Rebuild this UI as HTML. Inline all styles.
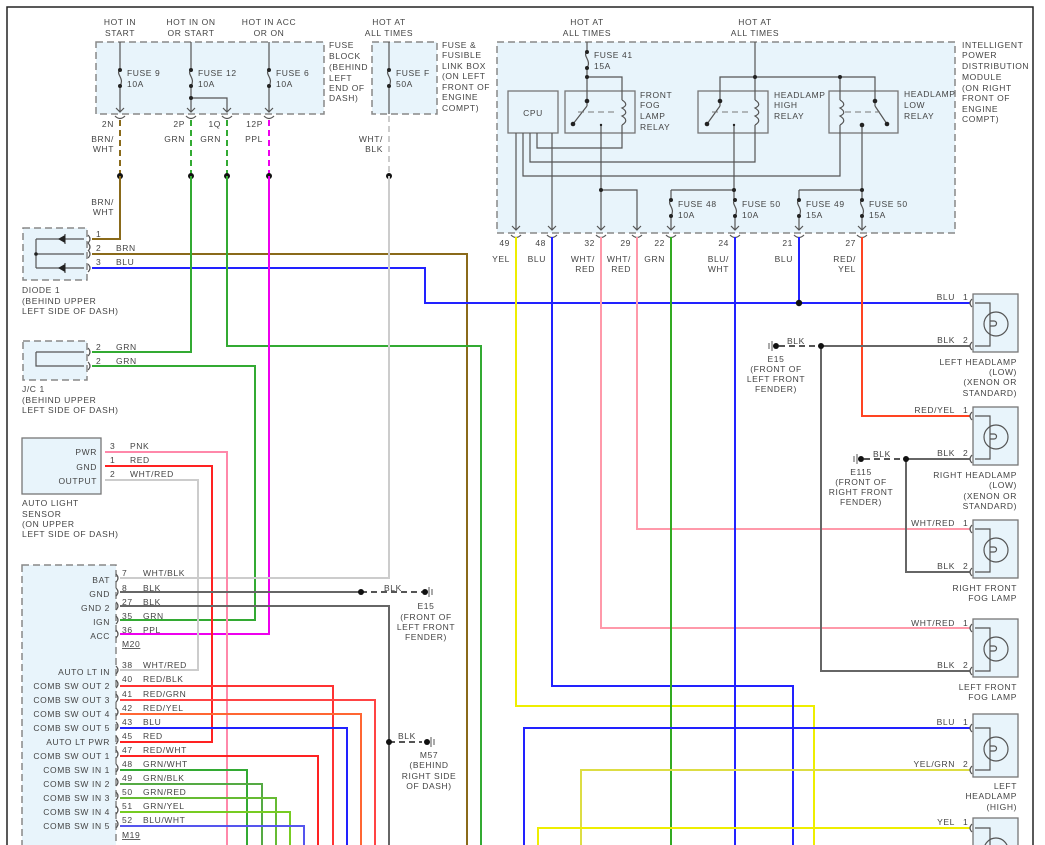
<!DOCTYPE html>
<html><head><meta charset="utf-8"><style>
body{margin:0;background:#fff}
svg{display:block}
text{font-family:"Liberation Sans",sans-serif;font-size:8.5px;fill:#444;letter-spacing:0.6px}
.r{text-anchor:end}.m{text-anchor:middle}
.box{fill:#e8f4fb;stroke:#777;stroke-width:1.3}
.dash{fill:#e8f4fb;stroke:#888;stroke-width:1.5;stroke-dasharray:7,4}
.in{fill:none;stroke:#555;stroke-width:1.2}
.w{fill:none;stroke-width:2}
</style></head><body>
<svg width="1045" height="845" viewBox="0 0 1045 845">
<rect x="7" y="7" width="1026" height="850" fill="none" stroke="#222" stroke-width="1.5"/>

<!-- Fuse block -->
<rect class="dash" x="96" y="42" width="228" height="72"/>
<rect class="dash" x="372" y="42" width="65" height="72"/>
<rect class="dash" x="497" y="42" width="458" height="191"/>
<text class="m" x="120" y="25">HOT IN</text><text class="m" x="120" y="36">START</text>
<text class="m" x="191" y="25">HOT IN ON</text><text class="m" x="191" y="36">OR START</text>
<text class="m" x="269" y="25">HOT IN ACC</text><text class="m" x="269" y="36">OR ON</text>
<text class="m" x="389" y="25">HOT AT</text><text class="m" x="389" y="36">ALL TIMES</text>
<text x="329" y="48">FUSE</text><text x="329" y="59">BLOCK</text><text x="329" y="70">(BEHIND</text><text x="329" y="81">LEFT</text><text x="329" y="91">END OF</text><text x="329" y="101">DASH)</text>
<text x="442" y="48">FUSE &amp;</text><text x="442" y="58">FUSIBLE</text><text x="442" y="69">LINK BOX</text><text x="442" y="79">(ON LEFT</text><text x="442" y="90">FRONT OF</text><text x="442" y="100">ENGINE</text><text x="442" y="111">COMPT)</text>
<g class="in">
<path d="M120 42V70M120 86V112M191 42V70M191 86V112M191 98H227V112M269 42V70M269 86V112M389 42V70M389 86V114"/>
<path d="M120 70c-5 4 5 8 0 16M191 70c-5 4 5 8 0 16M269 70c-5 4 5 8 0 16M389 70c-5 4 5 8 0 16"/>
<path d="M116 108l4 4 4-4M187 108l4 4 4-4M223 108l4 4 4-4M265 108l4 4 4-4"/>
<path d="M115 116q5 5 10 0M186 116q5 5 10 0M222 116q5 5 10 0M264 116q5 5 10 0"/>
</g>
<g fill="#222"><circle cx="120" cy="70" r="2"/><circle cx="120" cy="86" r="2"/><circle cx="191" cy="70" r="2"/><circle cx="191" cy="86" r="2"/><circle cx="191" cy="98" r="2"/><circle cx="269" cy="70" r="2"/><circle cx="269" cy="86" r="2"/><circle cx="389" cy="70" r="2"/><circle cx="389" cy="86" r="2"/></g>
<text x="127" y="76">FUSE 9</text><text x="127" y="87">10A</text>
<text x="198" y="76">FUSE 12</text><text x="198" y="87">10A</text>
<text x="276" y="76">FUSE 6</text><text x="276" y="87">10A</text>
<text x="396" y="76">FUSE F</text><text x="396" y="87">50A</text>
<text class="r" x="114" y="127">2N</text><text class="r" x="185" y="127">2P</text><text class="r" x="221" y="127">1Q</text><text class="r" x="263" y="127">12P</text>
<text class="r" x="114" y="142">BRN/</text><text class="r" x="114" y="152">WHT</text>
<text class="r" x="185" y="142">GRN</text><text class="r" x="221" y="142">GRN</text><text class="r" x="263" y="142">PPL</text>
<text class="r" x="383" y="142">WHT/</text><text class="r" x="383" y="152">BLK</text>
<g class="w" stroke-dasharray="6,4">
<path stroke="#8a6a1a" d="M120 120V176"/><path stroke="#3a3" d="M191 120V176M227 120V176"/><path stroke="#e0e" d="M269 120V176"/><path stroke="#ccc" d="M389 116V176"/>
</g>
<g fill="#111"><circle cx="120" cy="176" r="3"/><circle cx="191" cy="176" r="3"/><circle cx="227" cy="176" r="3"/><circle cx="269" cy="176" r="3"/><circle cx="389" cy="176" r="3"/></g>
<text class="r" x="114" y="205">BRN/</text><text class="r" x="114" y="215">WHT</text>

<!-- IPDM -->
<text class="m" x="587" y="25">HOT AT</text><text class="m" x="587" y="36">ALL TIMES</text>
<text class="m" x="755" y="25">HOT AT</text><text class="m" x="755" y="36">ALL TIMES</text>
<text x="962" y="48">INTELLIGENT</text><text x="962" y="58">POWER</text><text x="962" y="69">DISTRIBUTION</text><text x="962" y="80">MODULE</text><text x="962" y="91">(ON RIGHT</text><text x="962" y="101">FRONT OF</text><text x="962" y="112">ENGINE</text><text x="962" y="122">COMPT)</text>
<rect class="box" x="508" y="91" width="50" height="42"/>
<rect class="box" x="565" y="91" width="70" height="42"/>
<rect class="box" x="698" y="91" width="70" height="42"/>
<rect class="box" x="829" y="91" width="69" height="42"/>
<text class="m" x="533" y="116">CPU</text>
<text x="640" y="98">FRONT</text><text x="640" y="108">FOG</text><text x="640" y="119">LAMP</text><text x="640" y="130">RELAY</text>
<text x="774" y="98">HEADLAMP</text><text x="774" y="108">HIGH</text><text x="774" y="119">RELAY</text>
<text x="904" y="97">HEADLAMP</text><text x="904" y="108">LOW</text><text x="904" y="119">RELAY</text>
<g class="in">
<path d="M587 42V52M587 68V106M587 77H622V100M587 106L573 124M622 125V148H537V133"/>
<path d="M622 100c5 3 5 6 0 8c5 3 5 6 0 8c5 3 5 6 0 9"/>
<path d="M587 52c-5 4 5 8 0 16"/>
<path d="M755 42V100M720 106V77H875V106M720 106L707 124M755 125V162H530V133M840 77V100M840 125V176H523V133M875 106L887 124"/>
<path d="M755 100c5 3 5 6 0 8c5 3 5 6 0 8c5 3 5 6 0 9M840 100c5 3 5 6 0 8c5 3 5 6 0 8c5 3 5 6 0 9"/>
<path d="M601 125V230M601 190H637V230M734 125V200M671 190H734M671 190V200M862 125V200M799 190H862M799 190V200M671 216V230M735 216V230M799 216V230M862 216V230M516 133V230M552 133V230"/>
<path d="M671 200c-5 4 5 8 0 16M735 200c-5 4 5 8 0 16M799 200c-5 4 5 8 0 16M862 200c-5 4 5 8 0 16"/>
<path d="M512 226l4 4 4-4M548 226l4 4 4-4M597 226l4 4 4-4M633 226l4 4 4-4M667 226l4 4 4-4M731 226l4 4 4-4M795 226l4 4 4-4M858 226l4 4 4-4"/>
<path d="M511 235q5 5 10 0M547 235q5 5 10 0M596 235q5 5 10 0M632 235q5 5 10 0M666 235q5 5 10 0M730 235q5 5 10 0M794 235q5 5 10 0M857 235q5 5 10 0"/>
</g>
<path d="M578 112h40M712 112h40M845 112h35" stroke="#777" stroke-dasharray="6,4"/>
<g fill="#222"><circle cx="587" cy="52" r="2"/><circle cx="587" cy="68" r="2"/><circle cx="587" cy="77" r="2"/><circle cx="587" cy="101" r="2.3"/><circle cx="573" cy="124" r="2.3"/><circle cx="601" cy="125" r="1.2"/><circle cx="601" cy="190" r="2"/>
<circle cx="755" cy="77" r="2"/><circle cx="840" cy="77" r="2"/><circle cx="720" cy="101" r="2.3"/><circle cx="707" cy="124" r="2.3"/><circle cx="734" cy="125" r="1.2"/><circle cx="875" cy="101" r="2.3"/><circle cx="887" cy="124" r="2.3"/><circle cx="862" cy="125" r="2.3"/>
<circle cx="734" cy="190" r="2"/><circle cx="862" cy="190" r="2"/>
<circle cx="671" cy="200" r="2"/><circle cx="671" cy="216" r="2"/><circle cx="735" cy="200" r="2"/><circle cx="735" cy="216" r="2"/><circle cx="799" cy="200" r="2"/><circle cx="799" cy="216" r="2"/><circle cx="862" cy="200" r="2"/><circle cx="862" cy="216" r="2"/></g>
<text x="594" y="58">FUSE 41</text><text x="594" y="69">15A</text>
<text x="678" y="207">FUSE 48</text><text x="678" y="218">10A</text>
<text x="742" y="207">FUSE 50</text><text x="742" y="218">10A</text>
<text x="806" y="207">FUSE 49</text><text x="806" y="218">15A</text>
<text x="869" y="207">FUSE 50</text><text x="869" y="218">15A</text>
<text class="r" x="510" y="246">49</text><text class="r" x="546" y="246">48</text><text class="r" x="595" y="246">32</text><text class="r" x="631" y="246">29</text><text class="r" x="665" y="246">22</text><text class="r" x="729" y="246">24</text><text class="r" x="793" y="246">21</text><text class="r" x="856" y="246">27</text>
<text class="r" x="510" y="262">YEL</text><text class="r" x="546" y="262">BLU</text><text class="r" x="595" y="262">WHT/</text><text class="r" x="595" y="272">RED</text><text class="r" x="631" y="262">WHT/</text><text class="r" x="631" y="272">RED</text><text class="r" x="665" y="262">GRN</text><text class="r" x="729" y="262">BLU/</text><text class="r" x="729" y="272">WHT</text><text class="r" x="793" y="262">BLU</text><text class="r" x="856" y="262">RED/</text><text class="r" x="856" y="272">YEL</text>

<!-- Diode / JC -->
<rect class="dash" x="23" y="228" width="64" height="52"/>
<rect class="dash" x="23" y="341" width="64" height="39"/>
<g class="in"><path d="M36 239H84M36 254H84M36 268H84M36 239V268M36 352H84M36 352V366H84"/>
<path d="M88 235q4 4 0 8q4 4 0 8M88 250q4 4 0 8M88 264q4 4 0 8M88 348q4 4 0 8M88 362q4 4 0 8"/></g>
<path d="M58 239l7-4v8zM58 268l7-4v8z" fill="#222"/><path d="M65 234v10M65 263v10" stroke="#222"/>
<circle cx="36" cy="254" r="1.8" fill="#222"/>
<text x="96" y="237">1</text><text x="96" y="251">2</text><text x="116" y="251">BRN</text><text x="96" y="265">3</text><text x="116" y="265">BLU</text>
<text x="96" y="350">2</text><text x="116" y="350">GRN</text><text x="96" y="364">2</text><text x="116" y="364">GRN</text>
<text x="22" y="293">DIODE 1</text><text x="22" y="304">(BEHIND UPPER</text><text x="22" y="314">LEFT SIDE OF DASH)</text>
<text x="22" y="392">J/C 1</text><text x="22" y="403">(BEHIND UPPER</text><text x="22" y="413">LEFT SIDE OF DASH)</text>

<!-- Auto light sensor -->
<rect class="box" x="22" y="438" width="79" height="56"/>
<text class="r" x="97" y="455">PWR</text><text class="r" x="97" y="470">GND</text><text class="r" x="97" y="484">OUTPUT</text>
<text x="110" y="449">3</text><text x="130" y="449">PNK</text><text x="110" y="463">1</text><text x="130" y="463">RED</text><text x="110" y="477">2</text><text x="130" y="477">WHT/RED</text>
<text x="22" y="506">AUTO LIGHT</text><text x="22" y="517">SENSOR</text><text x="22" y="527">(ON UPPER</text><text x="22" y="537">LEFT SIDE OF DASH)</text>

<!-- BCM -->
<rect class="dash" x="22" y="565" width="94" height="300"/>
<g font-size="8.5">
<text class="r" x="110" y="583">BAT</text><text class="r" x="110" y="597">GND</text><text class="r" x="110" y="611">GND 2</text><text class="r" x="110" y="625">IGN</text><text class="r" x="110" y="639">ACC</text>
<text class="r" x="110" y="675">AUTO LT IN</text><text class="r" x="110" y="689">COMB SW OUT 2</text><text class="r" x="110" y="703">COMB SW OUT 3</text><text class="r" x="110" y="717">COMB SW OUT 4</text><text class="r" x="110" y="731">COMB SW OUT 5</text><text class="r" x="110" y="745">AUTO LT PWR</text><text class="r" x="110" y="759">COMB SW OUT 1</text><text class="r" x="110" y="773">COMB SW IN 1</text><text class="r" x="110" y="787">COMB SW IN 2</text><text class="r" x="110" y="801">COMB SW IN 3</text><text class="r" x="110" y="815">COMB SW IN 4</text><text class="r" x="110" y="829">COMB SW IN 5</text>
</g>
<g font-size="8">
<text x="122" y="576">7</text><text x="143" y="576">WHT/BLK</text>
<text x="122" y="591">8</text><text x="143" y="591">BLK</text>
<text x="122" y="605">27</text><text x="143" y="605">BLK</text>
<text x="122" y="619">35</text><text x="143" y="619">GRN</text>
<text x="122" y="633">36</text><text x="143" y="633">PPL</text>
<text x="122" y="647" text-decoration="underline">M20</text>
<text x="122" y="668">38</text><text x="143" y="668">WHT/RED</text>
<text x="122" y="682">40</text><text x="143" y="682">RED/BLK</text>
<text x="122" y="697">41</text><text x="143" y="697">RED/GRN</text>
<text x="122" y="711">42</text><text x="143" y="711">RED/YEL</text>
<text x="122" y="725">43</text><text x="143" y="725">BLU</text>
<text x="122" y="739">45</text><text x="143" y="739">RED</text>
<text x="122" y="753">47</text><text x="143" y="753">RED/WHT</text>
<text x="122" y="767">48</text><text x="143" y="767">GRN/WHT</text>
<text x="122" y="781">49</text><text x="143" y="781">GRN/BLK</text>
<text x="122" y="795">50</text><text x="143" y="795">GRN/RED</text>
<text x="122" y="809">51</text><text x="143" y="809">GRN/YEL</text>
<text x="122" y="823">52</text><text x="143" y="823">BLU/WHT</text>
<text x="122" y="838" text-decoration="underline">M19</text>
</g>
<path class="in" d="M116 574q4 4 0 8M116 588q4 4 0 8M116 602q4 4 0 8M116 616q4 4 0 8M116 630q4 4 0 8M116 666q4 4 0 8M116 680q4 4 0 8M116 694q4 4 0 8M116 708q4 4 0 8M116 722q4 4 0 8M116 736q4 4 0 8M116 750q4 4 0 8M116 764q4 4 0 8M116 778q4 4 0 8M116 792q4 4 0 8M116 806q4 4 0 8M116 820q4 4 0 8"/>

<!-- Wires -->
<g class="w">
<path stroke="#8a6a1a" d="M120 176V239H92"/>
<path stroke="#8a6a1a" d="M92 254H467V845"/>
<path stroke="#22f" d="M92 268H425V303H970"/>
<path stroke="#22f" d="M799 237V303"/>
<path stroke="#3a3" d="M191 176V352H92"/>
<path stroke="#3a3" d="M92 366H255V620H120"/>
<path stroke="#3a3" d="M227 176V346H481V845"/>
<path stroke="#e0e" d="M269 176V634H120"/>
<path stroke="#ccc" d="M389 176V578H120"/>
<path stroke="#f8a" d="M105 452H227V845"/>
<path stroke="#f22" d="M105 466H212V742H120"/>
<path stroke="#ccc" d="M105 480H198V670H120"/>
<path stroke="#666" d="M120 592H361"/>
<path stroke="#666" d="M120 606H389V845"/>
<path stroke="#f33" d="M120 686H333V845"/>
<path stroke="#f44" d="M120 700H375V845"/>
<path stroke="#f63" d="M120 714H361V845"/>
<path stroke="#22f" d="M120 728H347V845"/>
<path stroke="#f22" d="M120 756H318V845"/>
<path stroke="#3a3" d="M120 770H247V845"/>
<path stroke="#5a4" d="M120 784H262V845"/>
<path stroke="#6b3" d="M120 798H276V845"/>
<path stroke="#7c2" d="M120 812H290V845"/>
<path stroke="#55e" d="M120 826H304V845"/>
<path stroke="#ee0" d="M516 237V706H814V845"/>
<path stroke="#22f" d="M552 237V686H793V845"/>
<path stroke="#f9a" d="M601 237V628H970"/>
<path stroke="#f9a" d="M637 237V529H970"/>
<path stroke="#3a2" d="M671 237V845"/>
<path stroke="#22f" d="M735 237V845"/>
<path stroke="#f42" d="M862 237V416H970"/>
<path stroke="#666" d="M821 346H970M821 346V671H970"/>
<path stroke="#666" d="M906 459H970M906 459V572H970"/>
<path stroke="#22f" d="M524 845V728H970"/>
<path stroke="#dd4" d="M581 845V770H970"/>
<path stroke="#ee0" d="M538 845V828H970"/>
</g>
<!-- grounds -->
<g stroke="#555" stroke-width="2" stroke-dasharray="6,4" fill="none"><path d="M361 592H422M389 742H422M779 346H821M864 459H906"/></g>
<g fill="#111"><circle cx="361" cy="592" r="3"/><circle cx="389" cy="742" r="3"/><circle cx="425" cy="592" r="3"/><circle cx="427" cy="742" r="3"/><circle cx="821" cy="346" r="3"/><circle cx="906" cy="459" r="3"/><circle cx="799" cy="303" r="3.2"/><circle cx="776" cy="346" r="3"/><circle cx="861" cy="459" r="3"/></g>
<path d="M429 587v10M432 589v6M772 341v10M769 343v6M857 454v10M854 456v6M431 737v10M434 739v6" stroke="#555"/>
<text x="384" y="591">BLK</text><text x="398" y="739">BLK</text><text x="787" y="344">BLK</text><text x="873" y="457">BLK</text>
<g class="m"><text x="426" y="609">E15</text><text x="426" y="620">(FRONT OF</text><text x="426" y="630">LEFT FRONT</text><text x="426" y="640">FENDER)</text>
<text x="429" y="758">M57</text><text x="429" y="768">(BEHIND</text><text x="429" y="779">RIGHT SIDE</text><text x="429" y="789">OF DASH)</text>
<text x="776" y="362">E15</text><text x="776" y="372">(FRONT OF</text><text x="776" y="382">LEFT FRONT</text><text x="776" y="392">FENDER)</text>
<text x="861" y="475">E115</text><text x="861" y="485">(FRONT OF</text><text x="861" y="495">RIGHT FRONT</text><text x="861" y="505">FENDER)</text></g>

<!-- lamps -->
<g id="lamps">
<g transform="translate(0,0)">
<rect class="box" x="973" y="294" width="45" height="58"/>
</g>
<rect class="box" x="973" y="407" width="45" height="58"/>
<rect class="box" x="973" y="520" width="45" height="58"/>
<rect class="box" x="973" y="619" width="45" height="58"/>
<rect class="box" x="973" y="714" width="45" height="63"/>
<rect class="box" x="973" y="818" width="45" height="40"/>
</g>
<g class="in">
<path d="M975 303H990V346H975M975 416H990V459H975M975 529H990V572H975M975 628H990V671H975M975 728H990V770H975M975 828H990V850"/>
<circle cx="996" cy="324" r="12"/><circle cx="996" cy="437" r="12"/><circle cx="996" cy="550" r="12"/><circle cx="996" cy="649" r="12"/><circle cx="996" cy="749" r="12"/><circle cx="996" cy="850" r="12"/>
<path d="M990 321h4a2 2 0 0 1 0 5h-4M990 434h4a2 2 0 0 1 0 5h-4M990 547h4a2 2 0 0 1 0 5h-4M990 646h4a2 2 0 0 1 0 5h-4M990 746h4a2 2 0 0 1 0 5h-4"/>
<path d="M972 299q-4 4 0 8M972 342q-4 4 0 8M972 412q-4 4 0 8M972 455q-4 4 0 8M972 525q-4 4 0 8M972 568q-4 4 0 8M972 624q-4 4 0 8M972 667q-4 4 0 8M972 724q-4 4 0 8M972 766q-4 4 0 8M972 824q-4 4 0 8"/>
</g>
<g font-size="8">
<text class="r" x="955" y="300">BLU</text><text x="963" y="300">1</text><text class="r" x="955" y="343">BLK</text><text x="963" y="343">2</text>
<text class="r" x="955" y="413">RED/YEL</text><text x="963" y="413">1</text><text class="r" x="955" y="456">BLK</text><text x="963" y="456">2</text>
<text class="r" x="955" y="526">WHT/RED</text><text x="963" y="526">1</text><text class="r" x="955" y="569">BLK</text><text x="963" y="569">2</text>
<text class="r" x="955" y="626">WHT/RED</text><text x="963" y="626">1</text><text class="r" x="955" y="668">BLK</text><text x="963" y="668">2</text>
<text class="r" x="955" y="725">BLU</text><text x="963" y="725">1</text><text class="r" x="955" y="767">YEL/GRN</text><text x="963" y="767">2</text>
<text class="r" x="955" y="825">YEL</text><text x="963" y="825">1</text>
</g>
<g class="r">
<text x="1017" y="365">LEFT HEADLAMP</text><text x="1017" y="375">(LOW)</text><text x="1017" y="385">(XENON OR</text><text x="1017" y="396">STANDARD)</text>
<text x="1017" y="478">RIGHT HEADLAMP</text><text x="1017" y="488">(LOW)</text><text x="1017" y="499">(XENON OR</text><text x="1017" y="509">STANDARD)</text>
<text x="1017" y="591">RIGHT FRONT</text><text x="1017" y="601">FOG LAMP</text>
<text x="1017" y="690">LEFT FRONT</text><text x="1017" y="700">FOG LAMP</text>
<text x="1017" y="789">LEFT</text><text x="1017" y="799">HEADLAMP</text><text x="1017" y="810">(HIGH)</text>
</g>
</svg>
</body></html>
